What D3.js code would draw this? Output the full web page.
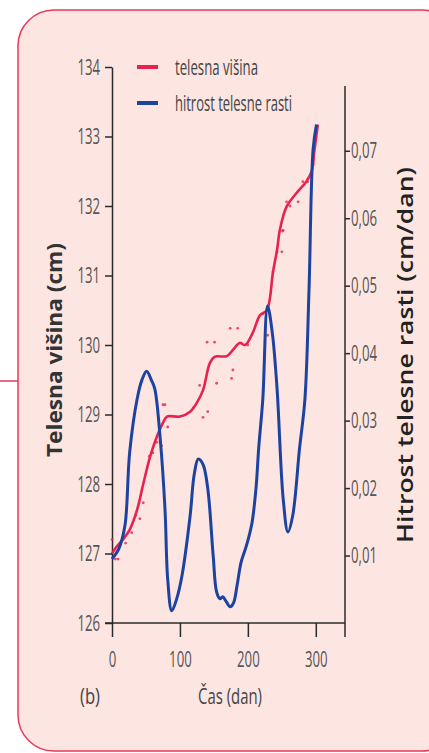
<!DOCTYPE html>
<meta charset="utf-8">
<style>
  body { margin: 0; background: #fff; }
</style>
<script src="https://d3js.org/d3.v7.min.js"></script>
<div id="my_dataviz"></div>
<script>

// ---- data ----
var heightDays = [0, 7, 16, 26, 37, 46, 56, 66, 75, 81, 100, 115, 125, 134, 144, 151, 169, 178, 188, 196, 207, 218, 228, 237, 243, 247, 257, 272, 286, 294, 298, 303];
var heightCm   = [127.0, 127.1, 127.2, 127.34, 127.63, 128.0, 128.39, 128.68, 128.88, 128.97, 128.97, 129.04, 129.17, 129.35, 129.74, 129.83, 129.84, 129.93, 130.03, 130.0, 130.17, 130.43, 130.5, 131.05, 131.37, 131.65, 131.99, 132.19, 132.35, 132.5, 132.8, 133.17];

var measuredDays = [0, 5, 9, 20, 29, 35, 41, 46, 55, 60, 66, 73, 75, 78, 82, 120, 129, 134, 141, 140, 151, 154, 174, 176, 178, 185, 200, 222, 229, 237, 243, 250, 251, 252, 257, 262, 274, 281, 288, 296];
var measuredCm   = [127.2, 126.92, 126.92, 127.15, 127.3, 127.55, 127.5, 127.73, 128.4, 128.45, 128.6, 128.55, 129.14, 129.14, 128.82, 129.1, 129.42, 128.96, 129.04, 130.04, 130.04, 129.45, 130.24, 129.52, 129.64, 130.24, 130.0, 130.45, 130.14, 131.05, 131.34, 131.34, 131.64, 131.65, 132.06, 132.0, 132.06, 132.35, 132.35, 132.6];

var rateDays = [0, 10, 19, 26, 37, 44, 51, 58, 63, 71, 78, 82, 88, 95, 103, 115, 121, 127, 134, 141, 149, 154, 159, 163, 168, 174, 179, 184, 190, 198, 206, 212, 216, 222, 229, 236, 243, 252, 259, 266, 276, 284, 290, 296, 301];
var rateCm   = [0.0095, 0.011, 0.0144, 0.0253, 0.0332, 0.036, 0.0373, 0.036, 0.0347, 0.0273, 0.0169, 0.0065, 0.0018, 0.0035, 0.007, 0.0159, 0.022, 0.0243, 0.0235, 0.0199, 0.0099, 0.0046, 0.0036, 0.0039, 0.0032, 0.0024, 0.003, 0.0055, 0.009, 0.0115, 0.0148, 0.02, 0.026, 0.0332, 0.047, 0.043, 0.0347, 0.0184, 0.0135, 0.0159, 0.0258, 0.0332, 0.0493, 0.0702, 0.0739];

var xTicks = [0, 100, 200, 300];
var leftTicks = [126, 127, 128, 129, 130, 131, 132, 133, 134];
var rightTicks = [0.01, 0.02, 0.03, 0.04, 0.05, 0.06, 0.07];

var seriesNames = ["telesna višina", "hitrost telesne rasti"];
var seriesColors = ["#e8224f", "#1d43a0"];

// ---- layout ----
var W = 429, H = 753;
var plot = {left: 112, right: 345, top: 67, bottom: 623};
var sx = 0.6; // the lettering in the picture is narrow

var svg = d3.select("#my_dataviz")
  .append("svg")
    .attr("width", W)
    .attr("height", H);

// panel
svg.append("line")
  .attr("x1", 0).attr("x2", 18).attr("y1", 381).attr("y2", 381)
  .style("stroke", "#e8385a").style("stroke-width", 1.5);
svg.append("rect")
  .attr("x", 18).attr("y", 10)
  .attr("width", 440).attr("height", 741)
  .attr("rx", 36).attr("ry", 36)
  .style("fill", "#fde5e1")
  .style("stroke", "#e8385a")
  .style("stroke-width", 1.5);

// scales
var x = d3.scaleLinear().domain([0, 343]).range([plot.left, plot.right]);
var y = d3.scaleLinear().domain([126, 134]).range([plot.bottom, plot.top]);
var yR = d3.scaleLinear().domain([0, 0.0796]).range([plot.bottom, 86]);

function squeeze(sel, dx) {
  sel.selectAll(".tick text")
    .style("font-family", "'Open Sans', sans-serif")
    .style("font-size", "22px")
    .style("fill", "#555")
    .attr("x", dx / sx)
    .attr("transform", "scale(" + sx + ",1)");
}
function axisLines(sel) {
  sel.selectAll("path, line").style("stroke", "#2a2a2a").style("stroke-width", 1.5);
}

// left axis
var gl = svg.append("g")
  .attr("transform", "translate(" + plot.left + ",0)")
  .call(d3.axisLeft(y).tickValues(leftTicks).tickSize(7).tickSizeOuter(0).tickFormat(d3.format("d")));
axisLines(gl);
squeeze(gl, -12);

// bottom axis
var gb = svg.append("g")
  .attr("transform", "translate(0," + plot.bottom + ")")
  .call(d3.axisBottom(x).tickValues(xTicks).tickSize(14).tickSizeOuter(0));
axisLines(gb);
gb.select(".domain").attr("d", "M" + (plot.left - 7) + ",0H" + plot.right);
squeeze(gb, 0);
gb.selectAll(".tick text").attr("y", 28);

// right axis
var gr = svg.append("g")
  .attr("transform", "translate(" + plot.right + ",0)")
  .call(d3.axisRight(yR).tickValues(rightTicks).tickSize(5).tickSizeOuter(0)
    .tickFormat(function(d) { return d3.format(".2f")(d).replace(".", ","); }));
axisLines(gr);
gr.select(".domain").attr("d", "M0," + yR.range()[1] + "V" + (plot.bottom + 14));
squeeze(gr, 6);

// measured heights
svg.append("g")
  .selectAll("circle")
  .data(measuredDays)
  .enter()
  .append("circle")
    .attr("cx", function(d) { return x(d); })
    .attr("cy", function(d, i) { return y(measuredCm[i]); })
    .attr("r", 1.4)
    .style("fill", seriesColors[0])
    .style("opacity", 0.8);

// lines
var heightLine = d3.line()
  .curve(d3.curveCatmullRom)
  .x(function(d) { return x(d); })
  .y(function(d, i) { return y(heightCm[i]); });
var rateLine = d3.line()
  .curve(d3.curveCatmullRom)
  .x(function(d) { return x(d); })
  .y(function(d, i) { return yR(rateCm[i]); });

svg.append("path")
  .attr("d", heightLine(heightDays))
  .style("fill", "none")
  .style("stroke", seriesColors[0])
  .style("stroke-width", 2.6);

svg.append("path")
  .attr("d", rateLine(rateDays))
  .style("fill", "none")
  .style("stroke", seriesColors[1])
  .style("stroke-width", 3);

// legend
var legend = svg.append("g")
  .selectAll("g")
  .data(seriesNames)
  .enter()
  .append("g")
    .attr("transform", function(d, i) { return "translate(137," + (67 + i * 36) + ")"; });
legend.append("line")
  .attr("x1", 0).attr("x2", 21)
  .style("stroke", function(d, i) { return seriesColors[i]; })
  .style("stroke-width", 4);
legend.append("text")
  .attr("x", 38)
  .attr("y", 8)
  .attr("textLength", function(d, i) { return i == 0 ? 83 : 117; })
  .attr("lengthAdjust", "spacingAndGlyphs")
  .style("font-family", "'Open Sans', sans-serif")
  .style("font-size", "22px")
  .style("fill", "#444")
  .text(function(d) { return d; });

// axis titles
svg.append("text")
  .attr("transform", "translate(62,350) rotate(-90)")
  .attr("text-anchor", "middle")
  .attr("textLength", 214)
  .attr("lengthAdjust", "spacingAndGlyphs")
  .style("font-family", "'Open Sans', sans-serif")
  .style("font-weight", "bold")
  .style("font-size", "22px")
  .style("fill", "#333")
  .text("Telesna višina (cm)");

svg.append("text")
  .attr("transform", "translate(413,355) rotate(-90)")
  .attr("text-anchor", "middle")
  .attr("textLength", 376)
  .attr("lengthAdjust", "spacingAndGlyphs")
  .style("font-family", "'Open Sans', sans-serif")
  .style("font-weight", "600")
  .style("font-size", "21px")
  .style("fill", "#222")
  .text("Hitrost telesne rasti (cm/dan)");

svg.append("text")
  .attr("x", 230)
  .attr("y", 704)
  .attr("text-anchor", "middle")
  .attr("textLength", 64)
  .attr("lengthAdjust", "spacingAndGlyphs")
  .style("font-family", "'Open Sans', sans-serif")
  .style("font-size", "21px")
  .style("fill", "#444")
  .text("Čas (dan)");

svg.append("text")
  .attr("x", 80)
  .attr("y", 704)
  .attr("textLength", 20)
  .attr("lengthAdjust", "spacingAndGlyphs")
  .style("font-family", "'Open Sans', sans-serif")
  .style("font-size", "21px")
  .style("fill", "#444")
  .text("(b)");

</script>
